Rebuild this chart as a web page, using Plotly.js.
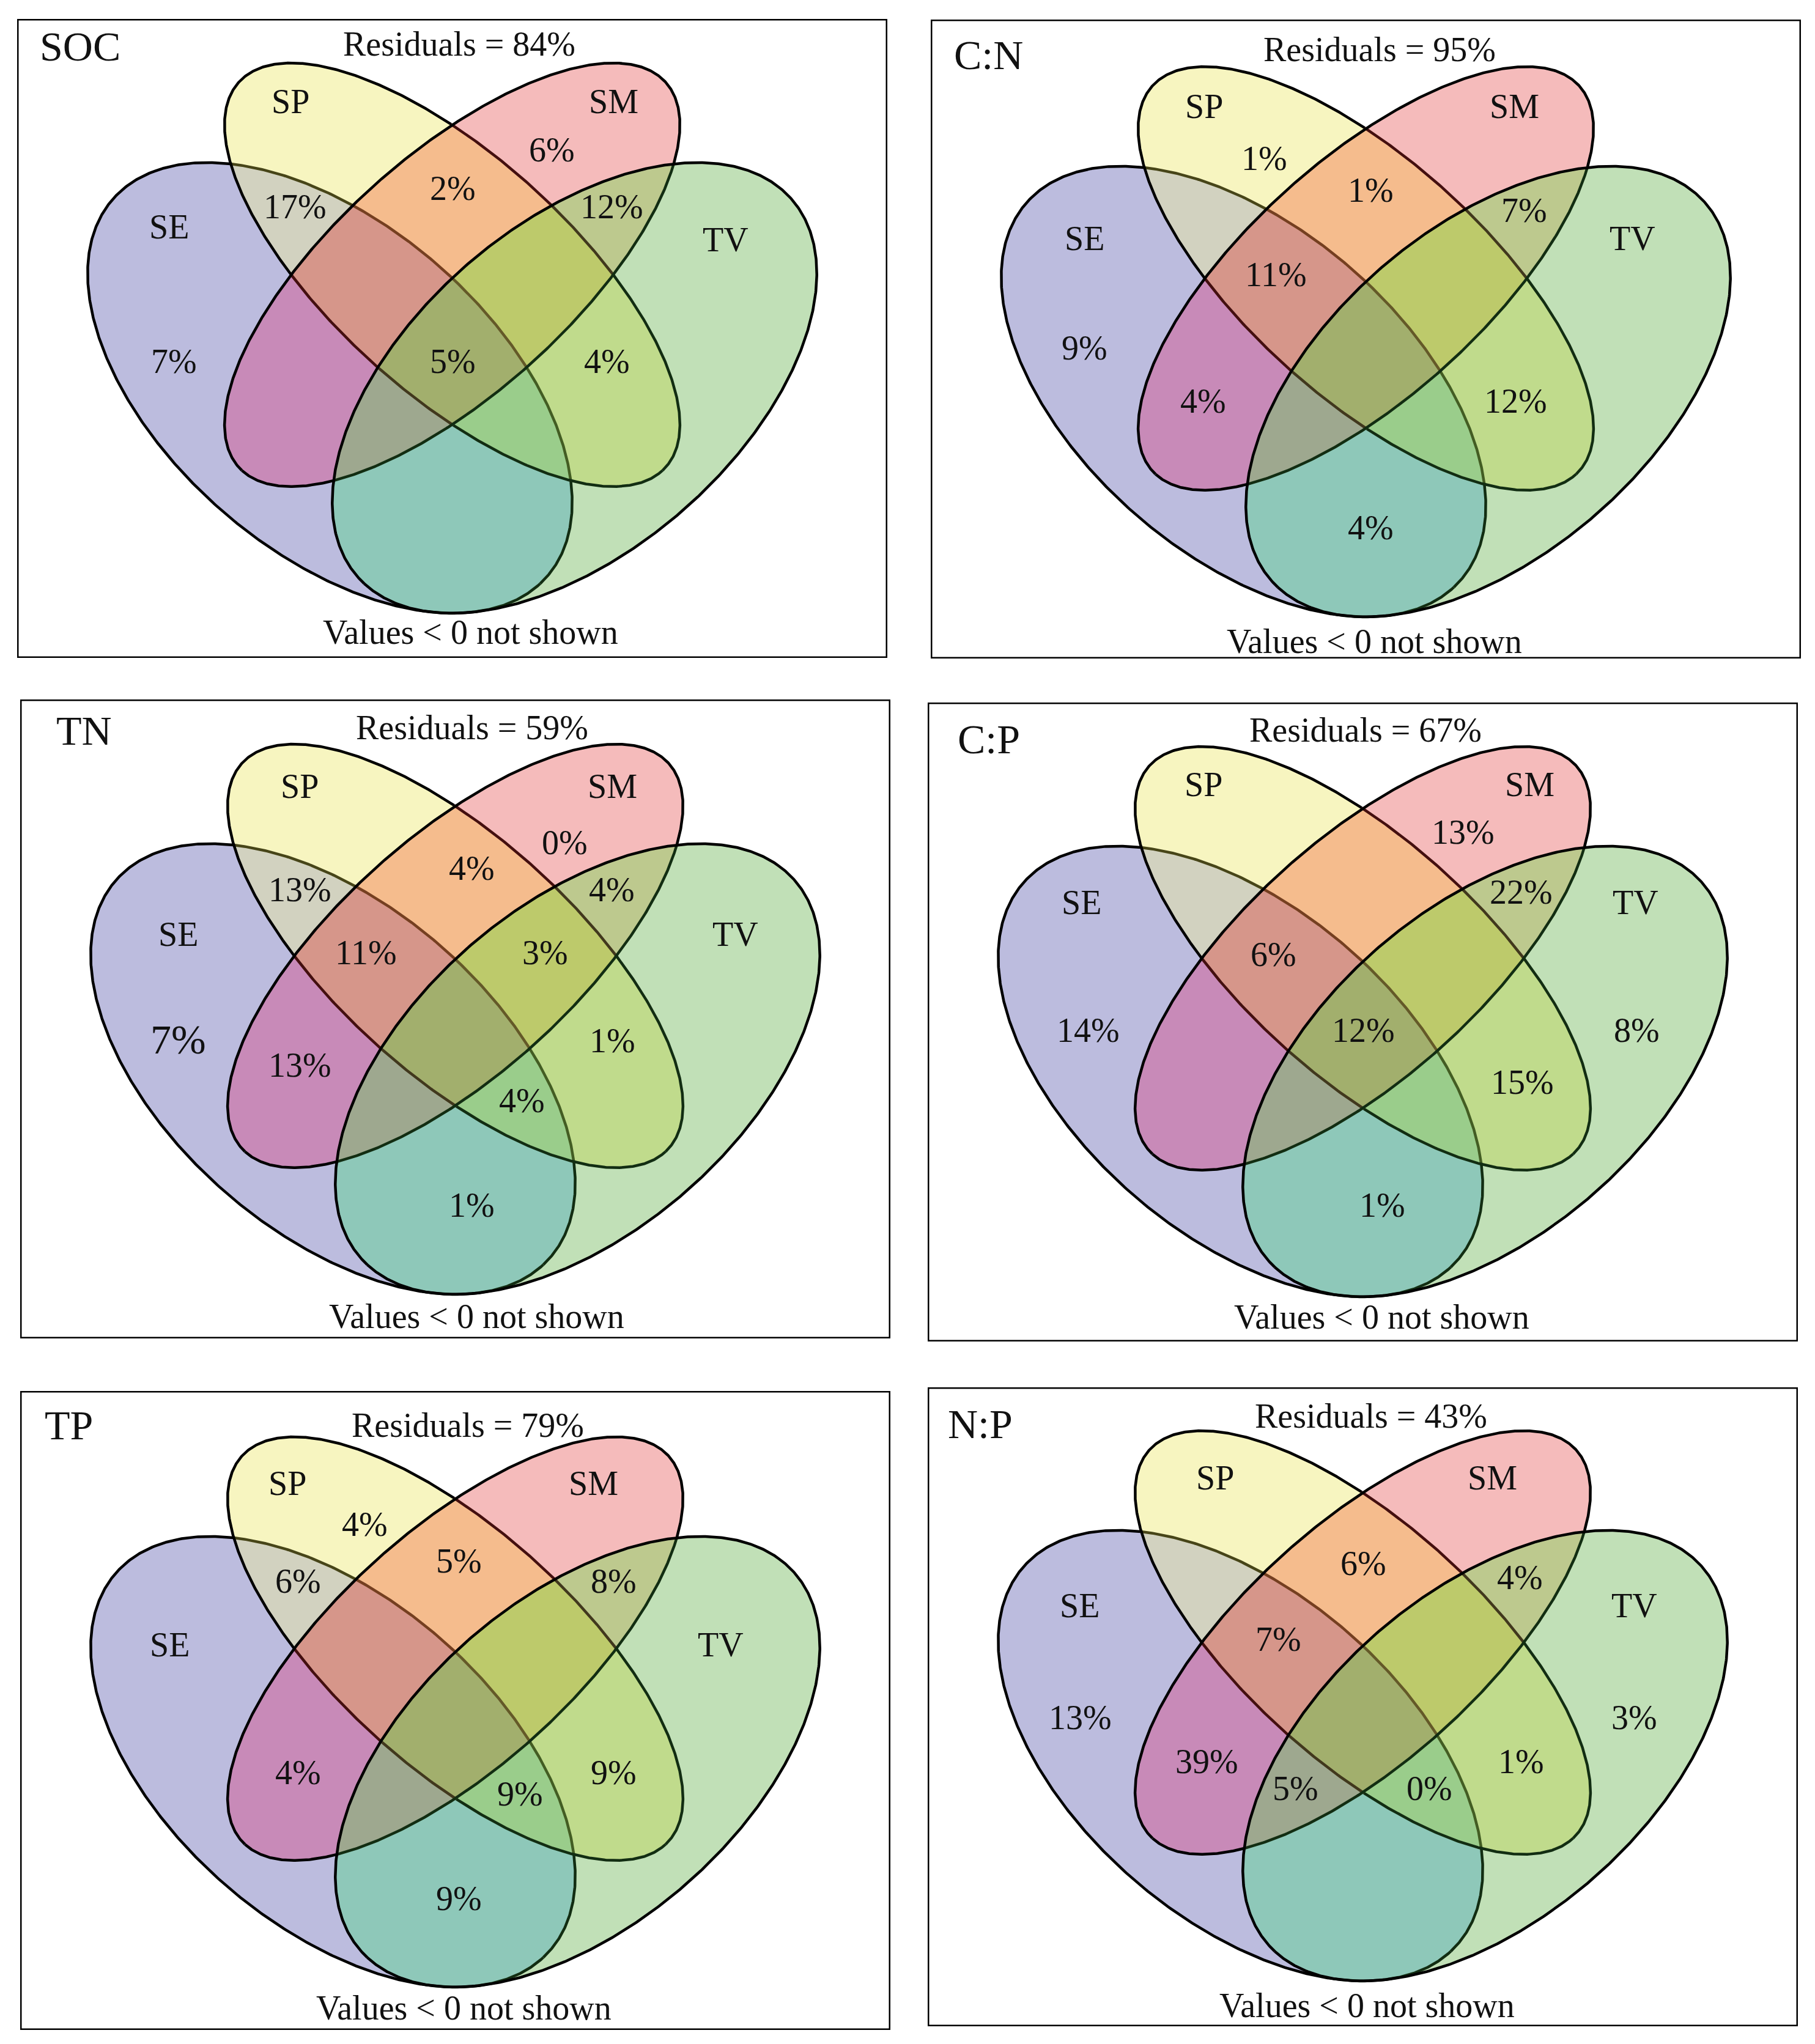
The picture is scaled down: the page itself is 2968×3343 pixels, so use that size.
<!DOCTYPE html>
<html><head><meta charset="utf-8">
<script src="https://cdn.plot.ly/plotly-3.0.1.min.js"></script>
<style>html,body{margin:0;padding:0;background:#fff}</style>
</head><body><div id="chart" style="width:2968px;height:3343px"></div>
<script>
// ---------------- data ----------------
const panelNames = ["SOC", "C:N", "TN", "C:P", "TP", "N:P"];
const residuals = [84, 95, 59, 67, 79, 43];
const setNames = ["SE", "SP", "SM", "TV"];
const regionKeys = ["SE","SP","SM","TV","SE&SP","SP&SM","SM&TV","SE&SM","SP&TV","SE&TV",
                    "SE&SP&SM","SP&SM&TV","SE&SM&TV","SE&SP&TV","ALL"];
const valuesSOC = [7, null, 6, null, 17, 2, 12, null, 4, null, null, null, null, null, 5];
const valuesCN  = [9, 1, null, null, null, 1, 7, 4, 12, 4, 11, null, null, null, null];
const valuesTN  = [7, null, 0, null, 13, 4, 4, 13, 1, 1, 11, 3, null, 4, null];
const valuesCP  = [14, null, 13, 8, null, null, 22, null, 15, 1, 6, null, null, null, 12];
const valuesTP  = [null, 4, null, null, 6, 5, 8, 4, 9, 9, null, null, null, 9, null];
const valuesNP  = [13, null, null, 3, null, 6, 4, 39, 1, null, 7, null, 5, 0, null];
const footnote = "Values < 0 not shown";

// ---------------- layout / geometry / style (not data) ----------------
const FIG_W = 2968, FIG_H = 3343;
const BOX_W = 1423, BOX_H = 1045;
const panelBoxes = [[28, 31], [1522, 32], [33, 1144], [1517, 1149], [33, 2275], [1517, 2269]];
const panelDy = [0, 5, 1, 0, 3, -1];
const SX = 1390, SY = 1293;
const ellipses = [ // drawing order: SE, SP, SM, TV
  {name: "SE", bit: 1, cx: 511.5, cy: 603.4, a: 0.35, b: 0.20,  s: 1,  tint: null},
  {name: "SP", bit: 2, cx: 711.5, cy: 418.4, a: 0.35, b: 0.145, s: 1,  tint: [235, 230, 80]},
  {name: "SM", bit: 4, cx: 711.5, cy: 418.4, a: 0.35, b: 0.145, s: -1, tint: [225, 50, 50]},
  {name: "TV", bit: 8, cx: 911.5, cy: 603.4, a: 0.35, b: 0.20,  s: -1, tint: [60, 150, 60]}
];
const TINT_ALPHA = 0.3;
const regionColors = ["#BCBCDE", "#F7F5C0", "#F5BBBB", "#C1E0B7", "#D2D2C0", "#F5BC8D", "#BDC98E",
                      "#C88AB8", "#C0DB8C", "#8EC8B9", "#D6968A", "#BDCA6B", "#9EA88F", "#9ACD8B", "#A2AF6D"];
const maskToRegion = {1: 0, 2: 1, 4: 2, 8: 3, 3: 4, 6: 5, 12: 6, 5: 7, 10: 8, 9: 9, 7: 10, 14: 11, 13: 12, 11: 13, 15: 14};
const CELL = 2;
const titlePos = [[35, 45], [36, 58], [57, 51], [47, 60], [38, 56], [31, 60]];
const residPos = [[723, 41], [734, 49], [739, 46], [716, 45], [732, 56], [725, 47]];
const notePos  = [[741, 1003], [725, 1017], [746, 1009], [742, 1005], [725, 1009], [718, 1011]];
const setLabelPos = [
  {SE: [248, 340], SP: [447, 135], SM: [975, 135], TV: [1158, 361]},
  {SE: [251, 358], SP: [447, 142], SM: [954, 142], TV: [1147, 358]},
  {SE: [258, 384], SP: [457, 142], SM: [968, 142], TV: [1169, 384]},
  {SE: [251, 327], SP: [451, 134], SM: [984, 134], TV: [1157, 327]},
  {SE: [244, 415], SP: [437, 151], SM: [937, 151], TV: [1145, 415]},
  {SE: [248, 357], SP: [470, 148], SM: [923, 148], TV: [1155, 357]}
];
const regionLabelPos = [
  {"SE": [256, 560], "SM": [874, 214], "SE&SP": [454, 307], "SP&SM": [712, 277], "SM&TV": [972, 307],
   "SP&TV": [964, 560], "ALL": [712, 560]},
  {"SE": [251, 537], "SP": [545, 227], "SP&SM": [719, 279], "SM&TV": [970, 312], "SE&SM": [445, 624],
   "SP&TV": [956, 624], "SE&TV": [719, 831], "SE&SP&SM": [564, 417]},
  {"SE": [258, 556], "SM": [890, 234], "SE&SP": [457, 311], "SP&SM": [738, 276], "SM&TV": [967, 311],
   "SE&SM": [457, 598], "SP&TV": [968, 558], "SE&TV": [738, 827], "SE&SP&SM": [565, 414],
   "SP&SM&TV": [858, 414], "SE&SP&TV": [820, 656]},
  {"SE": [262, 536], "SM": [875, 212], "TV": [1159, 536], "SM&TV": [970, 310], "SP&TV": [972, 621],
   "SE&TV": [743, 822], "SE&SP&SM": [565, 412], "ALL": [712, 536]},
  {"SP": [563, 218], "SE&SP": [454, 311], "SP&SM": [717, 278], "SM&TV": [970, 311], "SE&SM": [454, 624],
   "SP&TV": [970, 624], "SE&TV": [717, 830], "SE&SP&TV": [817, 659]},
  {"SE": [249, 540], "TV": [1155, 540], "SP&SM": [712, 288], "SM&TV": [968, 311], "SE&SM": [456, 612],
   "SP&TV": [970, 612], "SE&SP&SM": [573, 412], "SE&SM&TV": [601, 656], "SE&SP&TV": [820, 656]}
];
const bigLabel = {panel: 2, region: "SE", size: 68};
const FONT = "Liberation Serif, Times New Roman, serif";
const TXT = "#111111";
const LABEL_SIZE = 56, TITLE_SIZE = 68;
const LINE_W = 4.5;

const panelValues = [valuesSOC, valuesCN, valuesTN, valuesCP, valuesTP, valuesNP];

function ellipseLevel(e, dy, x, y) {
  const du = (x - e.cx) / SX, dw = (y - e.cy - dy) / SY;
  const p = (e.s * du + dw) / Math.SQRT2, q = (du - e.s * dw) / Math.SQRT2;
  return p * p / (e.a * e.a) + q * q / (e.b * e.b);
}
function ellipsePoint(e, dy, t) {
  const p = e.a * Math.cos(t), q = e.b * Math.sin(t);
  const du = (p * e.s + q) / Math.SQRT2, dw = (p - q * e.s) / Math.SQRT2;
  return [e.cx + SX * du, e.cy + dy + SY * dw];
}
function tintColor(mask) {
  let c = [0, 0, 0];
  ellipses.forEach(e => {
    if (e.tint && (mask & e.bit)) c = c.map((v, i) => v * (1 - TINT_ALPHA) + e.tint[i] * TINT_ALPHA);
  });
  return "rgb(" + c.map(v => Math.round(v)).join(",") + ")";
}

// stepped colour scale for the region fills
const nR = regionColors.length;
const colorscale = [];
regionColors.forEach((c, k) => { colorscale.push([k / nR, c]); colorscale.push([(k + 1) / nR, c]); });

const layout = {
  width: FIG_W, height: FIG_H,
  margin: {l: 0, r: 0, t: 0, b: 0},
  paper_bgcolor: "#ffffff", plot_bgcolor: "rgba(0,0,0,0)",
  showlegend: false,
  shapes: [], annotations: []
};
const traces = [];

panelNames.forEach((pname, k) => {
  const ax = k === 0 ? "" : String(k + 1);
  const [bx, by] = panelBoxes[k];
  const dy = panelDy[k];
  layout["xaxis" + ax] = {domain: [bx / FIG_W, (bx + BOX_W) / FIG_W], range: [0, BOX_W],
    visible: false, fixedrange: true, anchor: "y" + ax};
  layout["yaxis" + ax] = {domain: [1 - (by + BOX_H) / FIG_H, 1 - by / FIG_H], range: [BOX_H, 0],
    visible: false, fixedrange: true, anchor: "x" + ax};
  const xr = "x" + ax, yr = "y" + ax;

  // region fills as a categorical heatmap
  const nx = Math.ceil(BOX_W / CELL), ny = Math.ceil(BOX_H / CELL);
  const xs = [], ys = [], z = [];
  for (let i = 0; i < nx; i++) xs.push((i + 0.5) * CELL);
  for (let j = 0; j < ny; j++) ys.push((j + 0.5) * CELL);
  for (let j = 0; j < ny; j++) {
    const row = new Array(nx);
    for (let i = 0; i < nx; i++) {
      let mask = 0;
      ellipses.forEach(e => { if (ellipseLevel(e, dy, xs[i], ys[j]) < 1) mask |= e.bit; });
      row[i] = mask ? maskToRegion[mask] + 0.5 : null;
    }
    z.push(row);
  }
  traces.push({type: "heatmap", x: xs, y: ys, z: z, xaxis: xr, yaxis: yr, zmin: 0, zmax: nR,
    colorscale: colorscale, showscale: false, hoverinfo: "skip", zsmooth: false});

  // outlines, tinted where later (semi-transparent) sets lie over them
  ellipses.forEach((e, ei) => {
    const n = 900;
    const pts = [], masks = [];
    for (let i = 0; i <= n; i++) {
      const pt = ellipsePoint(e, dy, 2 * Math.PI * i / n);
      let m = 0;
      ellipses.forEach((f, fi) => { if (fi > ei && ellipseLevel(f, dy, pt[0], pt[1]) < 1) m |= f.bit; });
      pts.push(pt); masks.push(m);
    }
    let start = 0;
    for (let i = 1; i <= n; i++) {
      if (i === n || masks[i] !== masks[start]) {
        const seg = pts.slice(start, i + 1);
        traces.push({type: "scatter", mode: "lines", x: seg.map(p => p[0]), y: seg.map(p => p[1]),
          xaxis: xr, yaxis: yr, hoverinfo: "skip",
          line: {color: tintColor(masks[start]), width: LINE_W}});
        start = i;
      }
    }
  });

  // frame
  layout.shapes.push({type: "rect", xref: xr, yref: yr, x0: 0, x1: BOX_W, y0: 0, y1: BOX_H,
    line: {color: "#000000", width: 5}, fillcolor: "rgba(0,0,0,0)", layer: "above"});
  // texts
  layout.annotations.push({xref: xr, yref: yr, x: titlePos[k][0], y: titlePos[k][1], text: pname,
    showarrow: false, xanchor: "left", yanchor: "middle", font: {family: FONT, size: TITLE_SIZE, color: TXT}});
  layout.annotations.push({xref: xr, yref: yr, x: residPos[k][0], y: residPos[k][1],
    text: "Residuals = " + residuals[k] + "%", showarrow: false, xanchor: "center", yanchor: "middle",
    font: {family: FONT, size: LABEL_SIZE, color: TXT}});
  layout.annotations.push({xref: xr, yref: yr, x: notePos[k][0], y: notePos[k][1],
    text: footnote.replace("<", "&lt;"), showarrow: false, xanchor: "center", yanchor: "middle",
    font: {family: FONT, size: LABEL_SIZE, color: TXT}});
  setNames.forEach(sn => {
    const p = setLabelPos[k][sn];
    layout.annotations.push({xref: xr, yref: yr, x: p[0], y: p[1], text: sn, showarrow: false,
      xanchor: "center", yanchor: "middle", font: {family: FONT, size: LABEL_SIZE, color: TXT}});
  });
  const vals = panelValues[k];
  regionKeys.forEach((rk, i) => {
    if (vals[i] === null) return;
    const p = regionLabelPos[k][rk];
    if (!p) return;
    const size = (bigLabel.panel === k && bigLabel.region === rk) ? bigLabel.size : LABEL_SIZE;
    layout.annotations.push({xref: xr, yref: yr, x: p[0], y: p[1], text: vals[i] + "%", showarrow: false,
      xanchor: "center", yanchor: "middle", font: {family: FONT, size: size, color: TXT}});
  });
});

Plotly.newPlot("chart", traces, layout, {staticPlot: true, displayModeBar: false});
</script>
</body></html>
